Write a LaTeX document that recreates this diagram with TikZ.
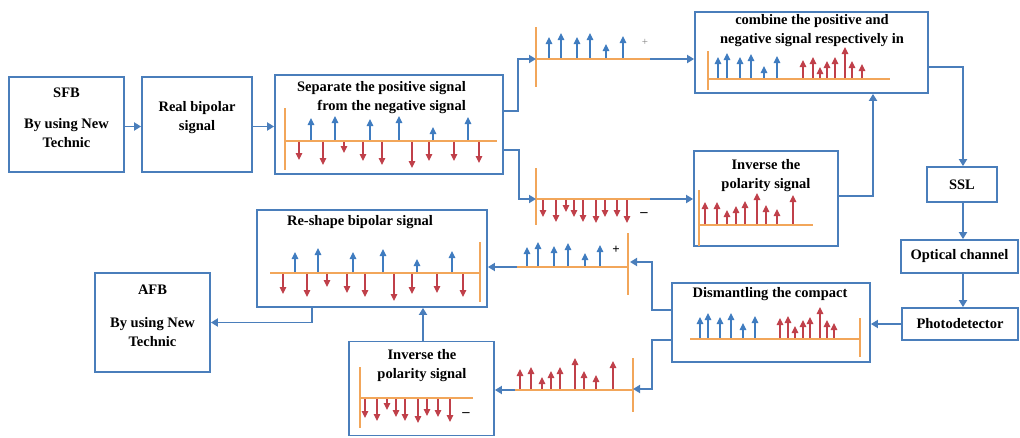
\documentclass[tikz,border=0pt]{standalone}
\usepackage{fontspec}
\setmainfont{Liberation Serif}
\usetikzlibrary{arrows.meta,calc}
\definecolor{boxblue}{HTML}{4A7EBB}
\definecolor{stemblue}{HTML}{3F7CC0}
\definecolor{stemred}{HTML}{C0404A}
\definecolor{axisorange}{HTML}{F2A65A}
\newcommand{\stemrow}[3]{\foreach \sx/\sy in {#3} {\draw[stem,#1] (\sx,#2) -- (\sx,\sy);}}
\tikzset{
  box/.style={draw=boxblue, line width=1.8pt, fill=white, inner sep=0pt},
  txt/.style={font=\fontsize{14.5}{19}\selectfont\bfseries, align=center, inner sep=0pt},
  conn/.style={draw=boxblue, line width=1.8pt, -{Triangle[width=8pt,length=7pt]}},
  stem/.style={line width=1.1pt, -{Triangle[width=6.5pt,length=7pt]}},
  blu/.style={draw=stemblue, fill=stemblue},
  rd/.style={draw=stemred, fill=stemred},
  axisline/.style={draw=axisorange, line width=2.4pt}
}
\begin{document}
\begin{tikzpicture}[x=1pt,y=-1pt]
\useasboundingbox (0,0) rectangle (1020,437);
% ---------- boxes ----------
\node[box, minimum width=115pt, minimum height=95pt] (sfb) at (66.5,124.5) {};
\node[box, minimum width=110pt, minimum height=95pt] (real) at (197,124.5) {};
\node[box, minimum width=228pt, minimum height=99pt] (sep) at (389,124.5) {};
\node[box, minimum width=233pt, minimum height=81pt] (comb) at (811.5,52.5) {};
\node[box, minimum width=144pt, minimum height=95pt] (inv1) at (766,198.5) {};
\node[box, txt, minimum width=70pt, minimum height=35pt] (ssl) at (962,184.5) {SSL};
\node[box, txt, minimum width=117pt, minimum height=33pt] (opt) at (959.5,256.5) {Optical channel};
\node[box, txt, minimum width=116pt, minimum height=32pt] (pd) at (960,324) {Photodetector};
\node[box, minimum width=198pt, minimum height=79pt] (dis) at (771,322.5) {};
\node[box, minimum width=230pt, minimum height=97pt] (resh) at (372,258.5) {};
\node[box, minimum width=145pt, minimum height=94pt] (inv2) at (421.5,388.5) {};
\node[box, minimum width=115pt, minimum height=99pt] (afb) at (152.5,322.5) {};
% ---------- texts ----------
\node[txt] (sfbA) at (66.5,93) {SFB};
\node[txt] (sfbB) at (66.5,133) {By using New\\Technic};
\node[txt] (realT) at (197,118) {Real bipolar\\signal};
\node[txt, anchor=east, align=right] (sepT) at (466,98) {Separate the positive signal\\from the negative signal};
\node[txt] (combT) at (812,31) {combine the positive and\\negative signal respectively in};
\node[txt] (inv1T) at (766,176) {Inverse the\\polarity signal};
\node[txt] (disT) at (770,294) {Dismantling the compact};
\node[txt] (reshT) at (360,222) {Re-shape bipolar signal};
\node[txt] (inv2T) at (422,366) {Inverse the\\polarity signal};
\node[txt] (afbA) at (152.5,290) {AFB};
\node[txt] (afbB) at (152.5,332) {By using New\\Technic};
% ---------- signal axes (named ends) ----------
\coordinate (tpV) at (536,59);  \coordinate (tpE) at (650,59);
\coordinate (tnV) at (536,199); \coordinate (tnE) at (650,199);
\coordinate (bpV) at (630,262); \coordinate (bpE) at (517,267);
\coordinate (bnV) at (633,389); \coordinate (bnE) at (515,390);
% separate box signal
\stemrow{blu}{141}{311/118,335/116,370/119,399/116,433/127,468/117}
\stemrow{rd}{141}{299/160,323/165,344/153,363/161,382/165,412/168,429/161,454/161,479/163}
\draw[axisline] (285,108) -- (285,170);
\draw[axisline] (285,141) -- (497,141);
% top positive signal
\stemrow{blu}{59}{549/37,561/33,577/37,590/33,606/44,623/36}
\draw[axisline] (536,27) -- (536,87);
\draw[axisline] (tpV) -- (tpE);
\node[font=\fontsize{11}{11}\selectfont, text=gray, inner sep=0pt] (plus1) at (645,42) {+};
% combine box signal
\stemrow{blu}{79}{718/57,727/53,740/57,751/54,764/66,777/56}
\stemrow{rd}{79}{803/60,813/57,820/67,827/61,835/57,845/47,852/61,862/64}
\draw[axisline] (708,51) -- (708,90);
\draw[axisline] (708,79) -- (890,79);
% top negative signal
\stemrow{rd}{199}{543/217,556/222,566/212,574/217,583/222,596/223,605/217,617/217,627/223}
\draw[axisline] (536,168) -- (536,225);
\draw[axisline] (tnV) -- (tnE);
\node[txt] (minus1) at (644,215) {--};
% inverse 1 signal
\stemrow{rd}{225}{705/202,717/202,727/210,736/206,745/201,757/193,766/205,777/209,793/195}
\draw[axisline] (699,190) -- (699,246);
\draw[axisline] (699,225) -- (813,225);
% reshape signal
\stemrow{blu}{273}{295/252,318/248,353/252,383/249,417/259,452/251}
\stemrow{rd}{273}{283/294,307/297,327/287,347/293,365/297,394/301,412/294,437/293,463/297}
\draw[axisline] (480,242) -- (480,302);
\draw[axisline] (270,273) -- (480,273);
% bottom positive signal
\stemrow{blu}{267}{527/247,538/242,554/246,568/243,585/253,600/245}
\draw[axisline] (628,233) -- (628,295);
\draw[axisline] (bpE) -- (628,267);
\node[font=\fontsize{13}{13}\selectfont\bfseries, inner sep=0pt] (plus2) at (616,250) {+};
% dismantling signal
\stemrow{blu}{339}{700/317,708/313,720/317,731/313,743/323,755/316}
\stemrow{rd}{339}{780/318,788/316,795/326,803/320,810/317,820/307,827/320,834/323}
\draw[axisline] (860,318) -- (860,357);
\draw[axisline] (690,339) -- (860,339);
% bottom red-up signal
\stemrow{rd}{390}{520/369,531/367,542/377,551/371,560/367,575/358,584/371,596/375,613/361}
\draw[axisline] (633,358) -- (633,412);
\draw[axisline] (bnE) -- (633,390);
% inverse 2 signal
\stemrow{rd}{398}{365/418,377/421,387/410,396/417,405/421,418/423,427/416,438/417,450/422}
\draw[axisline] (360,367) -- (360,428);
\draw[axisline] (360,398) -- (473,398);
\node[txt] (minus2) at (466,415) {--};
% ---------- connectors ----------
\draw[conn] ([yshift=-2pt]sfb.east) -- ([yshift=-2pt]real.west);
\draw[conn] ([yshift=-2pt]real.east) -- ([yshift=-2pt]sep.west);
\draw[conn] ([yshift=13.5pt]sep.east) -- ++(14,0) |- (tpV);
\draw[conn] ([yshift=-25.5pt]sep.east) -- ++(15,0) |- (tnV);
\draw[conn] (tpE) -- (comb.west |- tpE);
\draw[conn] (tnE) -- (inv1.west |- tnE);
\draw[conn] ([yshift=2.5pt]inv1.east) -| ([xshift=61.5pt]comb.south);
\draw[conn] ([yshift=-14.5pt]comb.east) -| ([xshift=1pt]ssl.north);
\draw[conn] ([xshift=1pt]ssl.south) -- ([xshift=1pt]ssl.south |- opt.north);
\draw[conn] ([xshift=1pt]ssl.south |- opt.south) -- ([xshift=1pt]ssl.south |- pd.north);
\draw[conn] (pd.west) -- (dis.east |- pd.west);
\draw[conn] ([yshift=12.5pt]dis.west) -- ++(-19,0) |- (bpV);
\draw[conn] (bpE) -- (resh.east |- bpE);
\draw[conn] ([yshift=-17.5pt]dis.west) -- ++(-19,0) |- (bnV);
\draw[conn] (bnE) -- (inv2.east |- bnE);
\draw[conn] ([xshift=1.5pt]inv2.north) -- ([xshift=1.5pt]inv2.north |- resh.south);
\draw[conn] ([xshift=-60pt]resh.south) |- (afb.east);
\end{tikzpicture}
\end{document}
